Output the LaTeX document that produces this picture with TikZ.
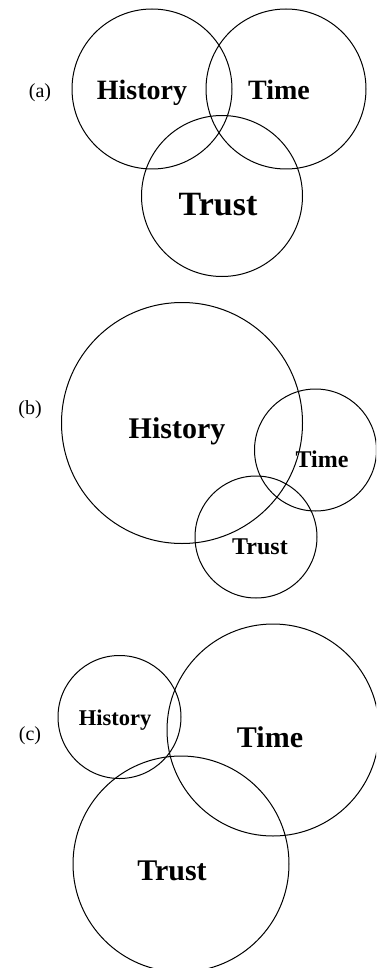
\documentclass[tikz,border=0pt]{standalone}
\usepackage{fontspec}
\setmainfont{Liberation Serif}
\begin{document}
\begin{tikzpicture}[x=1pt,y=-1pt,
  ring/.style={line width=1pt},
  lbl/.style={font=\bfseries, inner sep=0pt, anchor=base},
  tag/.style={font=\fontsize{20}{20}\selectfont, inner sep=0pt}]
\useasboundingbox (0,0) rectangle (376,968);
\begin{scope}
\clip (0,0) rectangle (376,968);
% (a)
\draw[ring] (152,89) circle (80);
\draw[ring] (286,89) circle (80);
\draw[ring] (222,196) circle (80.5);
\node[tag] (ta) at (40,93) {(a)};
\node[lbl, font=\bfseries\fontsize{28}{28}\selectfont] (ah) at (142,100) {History};
\node[lbl, font=\bfseries\fontsize{28}{28}\selectfont] (at) at (279,100) {Time};
\node[lbl, font=\bfseries\fontsize{34}{34}\selectfont] (ar) at (218,216) {Trust};
% (b)
\draw[ring] (182,423) circle (120.5);
\draw[ring] (315.5,450) circle (61);
\draw[ring] (256,537) circle (61);
\node[tag] (tb) at (30,410) {(b)};
\node[lbl, font=\bfseries\fontsize{30}{30}\selectfont] (bh) at (177,438) {History};
\node[lbl, font=\bfseries\fontsize{24}{24}\selectfont] (bt) at (322,467) {Time};
\node[lbl, font=\bfseries\fontsize{24}{24}\selectfont] (br) at (260,554) {Trust};
% (c)
\draw[ring] (119.5,717) circle (61.5);
\draw[ring] (273,730) circle (106);
\draw[ring] (181,864) circle (108);
\node[tag] (tc) at (30,736) {(c)};
\node[lbl, font=\bfseries\fontsize{22.5}{22.5}\selectfont] (ch) at (115,725) {History};
\node[lbl, font=\bfseries\fontsize{30}{30}\selectfont] (ct) at (270,747) {Time};
\node[lbl, font=\bfseries\fontsize{30}{30}\selectfont] (cr) at (172,880) {Trust};
\end{scope}
\end{tikzpicture}
\end{document}
